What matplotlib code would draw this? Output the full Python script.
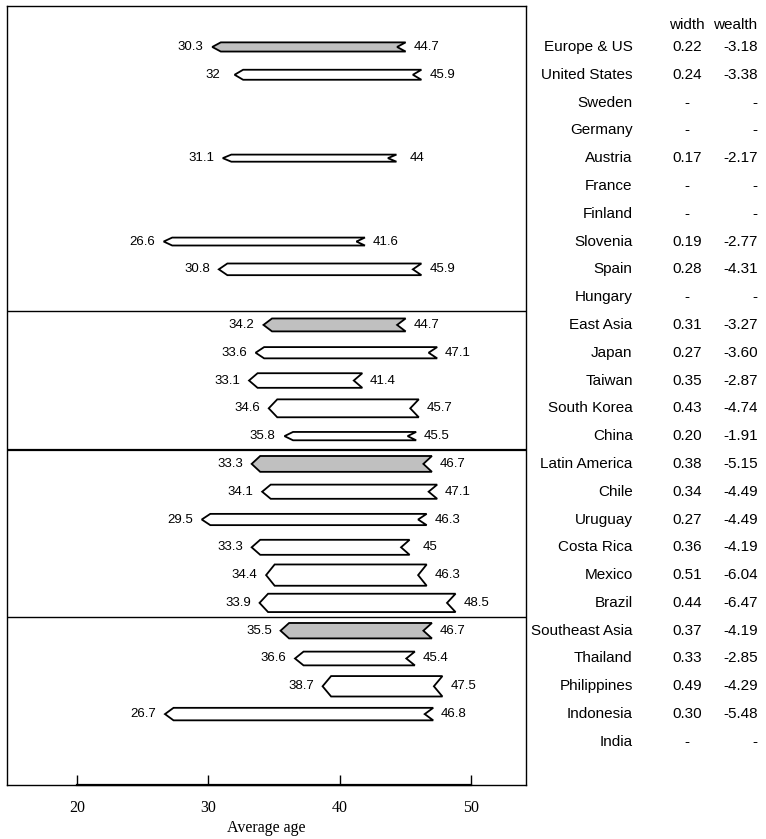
import numpy as np
import matplotlib
matplotlib.use("Agg")
import matplotlib.pyplot as plt
import matplotlib.transforms as mtransforms
from matplotlib.patches import Polygon

names = ["Europe & US", "United States", "Sweden", "Germany", "Austria", "France",
         "Finland", "Slovenia", "Spain", "Hungary", "East Asia", "Japan", "Taiwan",
         "South Korea", "China", "Latin America", "Chile", "Uruguay", "Costa Rica",
         "Mexico", "Brazil", "Southeast Asia", "Thailand", "Philippines", "Indonesia",
         "India"]
regions = ["Europe & US", "East Asia", "Latin America", "Southeast Asia"]
nan = np.nan
low_age = [30.3, 32, nan, nan, 31.1, nan, nan, 26.6, 30.8, nan,
           34.2, 33.6, 33.1, 34.6, 35.8,
           33.3, 34.1, 29.5, 33.3, 34.4, 33.9,
           35.5, 36.6, 38.7, 26.7, nan]
high_age = [44.7, 45.9, nan, nan, 44, nan, nan, 41.6, 45.9, nan,
            44.7, 47.1, 41.4, 45.7, 45.5,
            46.7, 47.1, 46.3, 45, 46.3, 48.5,
            46.7, 45.4, 47.5, 46.8, nan]
width = [0.22, 0.24, nan, nan, 0.17, nan, nan, 0.19, 0.28, nan,
         0.31, 0.27, 0.35, 0.43, 0.20,
         0.38, 0.34, 0.27, 0.36, 0.51, 0.44,
         0.37, 0.33, 0.49, 0.30, nan]
wealth = [-3.18, -3.38, nan, nan, -2.17, nan, nan, -2.77, -4.31, nan,
          -3.27, -3.60, -2.87, -4.74, -1.91,
          -5.15, -4.49, -4.49, -4.19, -6.04, -6.47,
          -4.19, -2.85, -4.29, -5.48, nan]
group_breaks = [9.5, 14.5, 20.5]

sans = "Liberation Sans"
serif = "Liberation Serif"

fig = plt.figure(figsize=(7.66, 8.39), dpi=100)
ax = fig.add_axes([0.0091, 0.0644, 0.6776, 0.9285])

tip = 0.65  # arrow tip / notch depth in years
for i, (lo, hi, w) in enumerate(zip(low_age, high_age, width)):
    if np.isnan(lo):
        continue
    h = w * 0.75
    pts = [(lo, i), (lo + tip, i - h), (hi + tip / 2, i - h),
           (hi - tip / 2, i), (hi + tip / 2, i + h), (lo + tip, i + h)]
    fc = "#c0c0c0" if names[i] in regions else "white"
    ax.add_patch(Polygon(pts, closed=True, fc=fc, ec="black", lw=1.3, zorder=3))
    ax.text(lo - 1.65, i, f"{lo:g}", ha="center", va="center",
            fontsize=9.5, family=sans)
    ax.text(hi + 1.9, i, f"{hi:g}", ha="center", va="center",
            fontsize=9.5, family=sans)

for yb, lw in zip(group_breaks, [1.0, 1.6, 1.0]):
    ax.axhline(yb, color="black", lw=lw)

ax.set_xlim(14.67, 54.19)
ax.set_ylim(26.55, -1.475)
ax.set_yticks([])
ax.set_xticks([20, 30, 40, 50])
ax.tick_params(axis="x", direction="in", length=7, width=1, pad=10.5)
for lab in ax.get_xticklabels():
    lab.set_family(serif)
    lab.set_fontsize(11.5)
ax.set_xlabel("Average age", family=serif, fontsize=11.5, labelpad=3)
ax.plot([20, 50], [26.55, 26.55], color="black", lw=1.6, clip_on=False)
for s in ax.spines.values():
    s.set_linewidth(1)

# side table
tr = mtransforms.blended_transform_factory(fig.transFigure, ax.transData)
ax.text(0.897, -0.79, "width", transform=tr, ha="center", va="center",
        fontsize=11, family=sans)
ax.text(0.989, -0.79, "wealth", transform=tr, ha="right", va="center",
        fontsize=11, family=sans)
for i, name in enumerate(names):
    ax.text(0.826, i, name, transform=tr, ha="right", va="center",
            fontsize=11, family=sans)
    wtxt = "-" if np.isnan(width[i]) else f"{width[i]:.2f}"
    ltxt = "-" if np.isnan(wealth[i]) else f"{wealth[i]:.2f}"
    ax.text(0.897, i, wtxt, transform=tr, ha="center", va="center",
            fontsize=11, family=sans)
    ax.text(0.989, i, ltxt, transform=tr, ha="right", va="center",
            fontsize=11, family=sans)

fig.savefig("out.png", dpi=100)
